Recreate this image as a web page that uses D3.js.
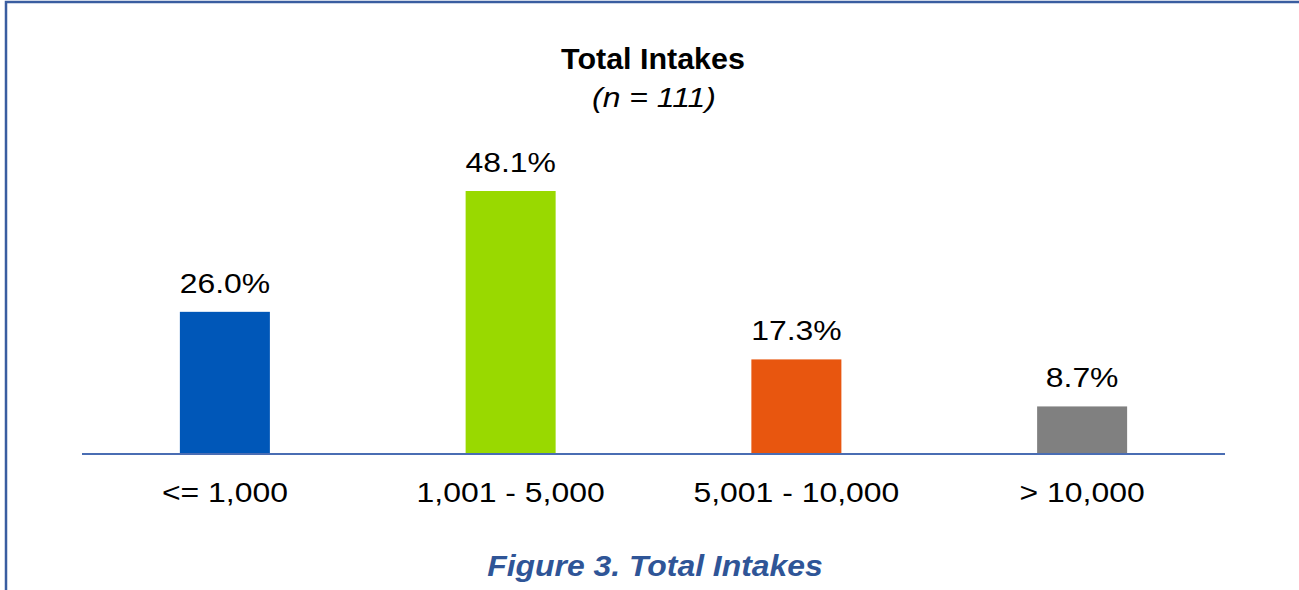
<!DOCTYPE html>
<html>
<head>
<meta charset="utf-8">
<script src="https://cdn.jsdelivr.net/npm/d3@7"></script>
<style>
  html, body { margin: 0; padding: 0; background: #fff; }
  svg { display: block; font-family: "Liberation Sans", Arial, sans-serif; }
</style>
</head>
<body>
<svg id="chart" width="1299" height="590"></svg>
<script>
// Share of respondents by total intakes
const categories = ["<= 1,000", "1,001 - 5,000", "5,001 - 10,000", "> 10,000"];
const values = [26.0, 48.1, 17.3, 8.7];
const colors = ["#0057b8", "#99d900", "#e8560f", "#808080"];

const svg = d3.select("#chart");

// outer frame (runs off the right and bottom edges)
svg.append("rect")
  .attr("x", 6).attr("y", 2)
  .attr("width", 1310).attr("height", 600)
  .attr("fill", "none")
  .attr("stroke", "#3a5da0")
  .attr("stroke-width", 2.5);

const plot = { left: 82, right: 1225, baseline: 454 };

const x = d3.scaleBand()
  .domain(categories)
  .range([plot.left, plot.right])
  .paddingInner(0.685)
  .paddingOuter(0.3425);

const y = d3.scaleLinear()
  .domain([0, 48.1])
  .range([plot.baseline, 191]);

// text is set slightly wide, as in the original layout
const wide = 1.14;

// bars
svg.append("g").selectAll("rect")
  .data(values)
  .join("rect")
  .attr("x", (d, i) => x(categories[i]))
  .attr("y", d => y(d))
  .attr("width", x.bandwidth())
  .attr("height", d => y(0) - y(d))
  .attr("fill", (d, i) => colors[i]);

// value labels
svg.append("g").selectAll("text")
  .data(values)
  .join("text")
  .attr("transform", (d, i) =>
    `translate(${x(categories[i]) + x.bandwidth() / 2},${y(d) - 19}) scale(${wide},1)`)
  .attr("text-anchor", "middle")
  .attr("font-size", 28)
  .attr("fill", "#000")
  .text(d => d.toFixed(1) + "%");

// category axis
const axis = svg.append("g")
  .attr("transform", `translate(0,${plot.baseline})`)
  .call(d3.axisBottom(x).tickSize(0).tickPadding(0));
axis.select(".domain")
  .attr("d", `M${plot.left},0H${plot.right}`)
  .attr("stroke", "#4a6db3")
  .attr("stroke-width", 2);
axis.selectAll(".tick text")
  .attr("y", null)
  .attr("dy", null)
  .attr("transform", `translate(0,48) scale(${wide},1)`)
  .attr("font-size", 28)
  .attr("font-family", "'Liberation Sans', Arial, sans-serif")
  .attr("fill", "#000");

// titles
svg.append("text")
  .attr("transform", "translate(653,69) scale(1.05,1)")
  .attr("text-anchor", "middle")
  .attr("font-size", 29)
  .attr("font-weight", "bold")
  .attr("fill", "#000")
  .text("Total Intakes");

svg.append("text")
  .attr("transform", `translate(654,107) scale(${wide},1)`)
  .attr("text-anchor", "middle")
  .attr("font-size", 28)
  .attr("font-style", "italic")
  .attr("fill", "#000")
  .text("(n = 111)");

svg.append("text")
  .attr("transform", "translate(655,576) scale(1.10,1)")
  .attr("text-anchor", "middle")
  .attr("font-size", 29)
  .attr("font-weight", "bold")
  .attr("font-style", "italic")
  .attr("fill", "#2f5597")
  .text("Figure 3. Total Intakes");
</script>
</body>
</html>
